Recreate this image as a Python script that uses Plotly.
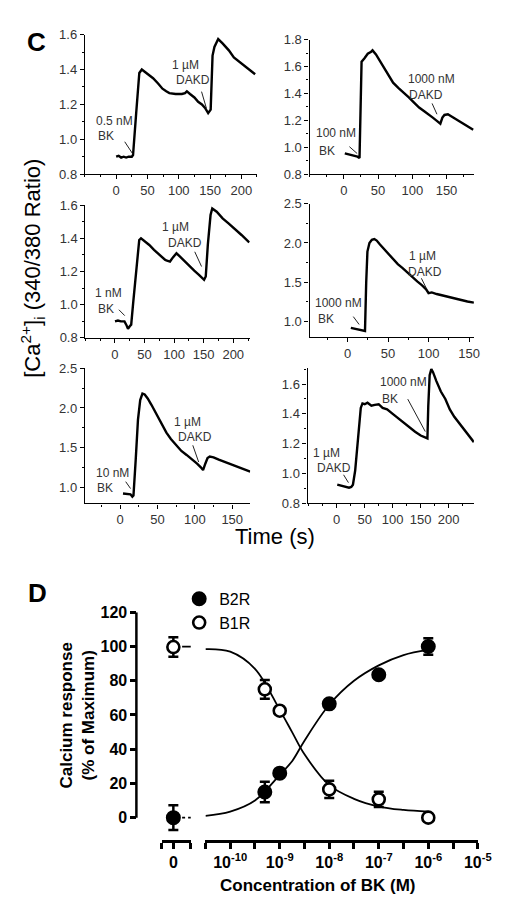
import plotly.graph_objects as go

W, H = 512, 909
FONT = "Liberation Sans, Arial, sans-serif"

# ---------------- Panel C data (time in s, ratio 340/380) ----------------
p1_t = [0, 4, 8, 12, 16, 20, 25, 27, 32, 37, 41, 45, 52, 59, 67, 74, 80, 85, 95, 105, 110, 113, 118, 125,
        131, 137, 142, 147, 151, 152.5, 154, 157, 161, 163, 170, 180, 188, 198, 209, 222]
p1_y = [0.90, 0.905, 0.895, 0.90, 0.895, 0.90, 0.90, 0.91, 1.15, 1.38, 1.40, 1.39, 1.37, 1.35, 1.32, 1.29,
        1.275, 1.265, 1.26, 1.26, 1.265, 1.275, 1.26, 1.24, 1.215, 1.20, 1.18, 1.15, 1.17, 1.30, 1.48, 1.53,
        1.566, 1.575, 1.55, 1.51, 1.47, 1.44, 1.407, 1.373]

p2_t = [1.5, 6, 11, 16, 20, 23, 24.2, 26, 30, 35, 40, 42, 47, 55, 63, 72, 80, 87, 95, 103, 110, 118, 125,
        130, 135, 139, 141, 144, 147, 152, 160, 170, 180, 189]
p2_y = [0.955, 0.95, 0.945, 0.935, 0.93, 0.92, 1.30, 1.635, 1.66, 1.695, 1.71, 1.72, 1.69, 1.62, 1.55, 1.48,
        1.44, 1.41, 1.37, 1.33, 1.295, 1.265, 1.235, 1.22, 1.20, 1.185, 1.175, 1.22, 1.24, 1.245, 1.22, 1.19,
        1.16, 1.13]

p3_t = [0, 5, 10, 16, 19, 22, 25, 27.4, 31, 35, 41, 44, 50, 58, 66, 75, 85, 88, 93, 98, 104, 110, 118, 126,
        134, 142, 148, 150.7, 153.5, 157, 161.6, 164.5, 172, 182, 192, 202, 214, 227]
p3_y = [0.90, 0.905, 0.90, 0.90, 0.88, 0.855, 0.87, 0.88, 1.02, 1.18, 1.39, 1.40, 1.385, 1.36, 1.33, 1.30,
        1.27, 1.265, 1.26, 1.285, 1.31, 1.29, 1.26, 1.23, 1.205, 1.18, 1.16, 1.15, 1.17, 1.36, 1.54, 1.58,
        1.56, 1.52, 1.49, 1.46, 1.42, 1.375]

p4_t = [4, 8, 12, 16, 20, 21.5, 23, 24.5, 27, 30, 33, 36, 40, 45, 50, 56, 62, 68, 74, 80, 86, 92, 97, 100,
        104, 110, 118, 128, 138, 148, 156]
p4_y = [0.92, 0.91, 0.90, 0.885, 0.88, 0.88, 1.50, 1.89, 2.00, 2.04, 2.05, 2.03, 1.98, 1.92, 1.86, 1.79,
        1.73, 1.68, 1.62, 1.56, 1.51, 1.46, 1.41, 1.36, 1.37, 1.35, 1.33, 1.30, 1.275, 1.255, 1.24]

p5_t = [4, 8, 12, 14, 16.5, 18, 21, 24, 27, 30, 33, 37, 42, 48, 55, 62, 68, 75, 82, 89, 96, 103, 108, 111,
        114, 117, 120, 125, 132, 140, 148, 156, 165, 174]
p5_y = [0.925, 0.92, 0.92, 0.915, 0.885, 0.90, 1.35, 1.85, 2.10, 2.18, 2.17, 2.12, 2.04, 1.93, 1.80, 1.69,
        1.61, 1.53, 1.46, 1.41, 1.36, 1.30, 1.255, 1.22, 1.30, 1.37, 1.39, 1.38, 1.35, 1.32, 1.29, 1.265,
        1.235, 1.20]

p6_t = [1, 6, 11, 16, 22, 26, 29, 33, 37, 40, 43, 46, 50, 55, 62, 68, 75, 82, 90, 100, 110, 120, 130, 140,
        150, 157, 162, 163.5, 166, 169, 172, 178, 186, 194, 202, 210, 218, 226, 235, 245]
p6_y = [0.925, 0.92, 0.915, 0.91, 0.905, 0.91, 0.925, 1.02, 1.18, 1.32, 1.44, 1.47, 1.465, 1.475, 1.455,
        1.46, 1.465, 1.44, 1.43, 1.40, 1.37, 1.335, 1.31, 1.28, 1.255, 1.24, 1.235, 1.45, 1.66, 1.70, 1.68,
        1.62, 1.55, 1.50, 1.43, 1.38, 1.34, 1.30, 1.255, 1.21]

trace_t = [p1_t, p2_t, p3_t, p4_t, p5_t, p6_t]
trace_y = [p1_y, p2_y, p3_y, p4_y, p5_y, p6_y]

# ---------------- Panel D data ----------------
conc = [5e-10, 1e-9, 1e-8, 1e-7, 1e-6]
b2r_vals = [15, 26, 66.5, 83.5, 100]
b2r_err = [6, 0, 0, 0, 4.8]
b1r_vals = [75, 62.5, 16.5, 10.7, 0]
b1r_err = [5.5, 0, 5, 4.5, 0]
b2r_zero, b2r_zero_err = 0, 7.2
b1r_zero, b1r_zero_err = 99.7, 5.7

curve_logx = [-10.5, -10, -9.5, -9, -8.75, -8.5, -8, -7.5, -7, -6.5, -6]
b2r_curve = [1, 3.5, 10, 25, 33, 45, 66, 80, 89, 95, 98]
b1r_curve = [98.5, 97, 87, 63, 50, 37, 19, 11, 6.5, 4.5, 3.5]
zero_seg_x = [0.3, 0.6]
b2r_zero_curve = [0, 0]
b1r_zero_curve = [100, 100]

d_major_log = [-10, -9, -8, -7, -6, -5]
d_major_text = ["10<sup>-10</sup>", "10<sup>-9</sup>", "10<sup>-8</sup>",
                "10<sup>-7</sup>", "10<sup>-6</sup>", "10<sup>-5</sup>"]
d_minor_log = [-10.5, -9.5, -8.5, -7.5, -6.5, -5.5]


def xd(a, b):
    return [a / W, b / W]


def yd(top, bottom):
    return [1 - bottom / H, 1 - top / H]


panels = [
    dict(xdom=(79, 256), ydom=(19, 161), xr=[-50, 225], yr=[0.8, 1.6], yt=[0.8, 1.0, 1.2, 1.4, 1.6], ym=0.1,
         xt=[0, 50, 100, 150, 200]),
    dict(xdom=(310, 479), ydom=(24, 161), xr=[-50, 190], yr=[0.8, 1.8], yt=[0.8, 1.0, 1.2, 1.4, 1.6, 1.8], ym=0.1,
         xt=[0, 50, 100, 150]),
    dict(xdom=(79.6, 248.6), ydom=(192.5, 327.7), xr=[-50, 228], yr=[0.8, 1.6], yt=[0.8, 1.0, 1.2, 1.4, 1.6], ym=0.1,
         xt=[0, 50, 100, 150, 200]),
    dict(xdom=(310, 479), ydom=(191, 327), xr=[-47, 156], yr=[0.8, 2.5], yt=[1.0, 1.5, 2.0, 2.5], ym=0.25,
         xt=[0, 50, 100, 150]),
    dict(xdom=(79, 249), ydom=(358.5, 496.2), xr=[-47, 174], yr=[0.8, 2.5], yt=[1.0, 1.5, 2.0, 2.5], ym=0.25,
         xt=[0, 50, 100, 150]),
    dict(xdom=(308, 479), ydom=(358, 496), xr=[-52, 245], yr=[0.8, 1.71], yt=[0.8, 1.0, 1.2, 1.4, 1.6], ym=0.1,
         xt=[0, 50, 100, 150, 200]),
]

fig = go.Figure()
layout = {}
tickfont = dict(family=FONT, size=13, color="#333")

for i, (p, tt, yy) in enumerate(zip(panels, trace_t, trace_y), start=1):
    sfx = "" if i == 1 else str(i)
    fig.add_trace(go.Scatter(x=tt, y=yy, mode="lines", line=dict(color="black", width=2.4),
                             xaxis="x" + sfx, yaxis="y" + sfx, showlegend=False, hoverinfo="skip"))
    layout["xaxis" + sfx] = dict(domain=xd(*p["xdom"]), range=p["xr"], anchor="y" + sfx,
                                 showline=True, linecolor="black", linewidth=1.2, showgrid=False,
                                 zeroline=False, tickmode="array", tickvals=p["xt"], ticks="outside",
                                 ticklen=4, tickcolor="black", tickwidth=1, tickfont=tickfont,
                                 minor=dict(dtick=25, tick0=0, ticks="outside", ticklen=2, tickcolor="black"))
    layout["yaxis" + sfx] = dict(domain=yd(*p["ydom"]), range=p["yr"], anchor="x" + sfx,
                                 showline=True, linecolor="black", linewidth=1.2, showgrid=False,
                                 zeroline=False, tickmode="array", tickvals=p["yt"], tickformat=".1f",
                                 ticks="outside", ticklen=4, tickcolor="black", tickwidth=1, tickfont=tickfont,
                                 minor=dict(dtick=p["ym"], tick0=0, ticks="outside", ticklen=2, tickcolor="black"))

# ---------------- Panel D traces ----------------
bold16 = dict(family=FONT, size=16, color="black", weight="bold")
mk_filled = dict(symbol="circle", size=13, color="black", line=dict(color="black", width=2))
mk_open = dict(symbol="circle", size=12, color="white", line=dict(color="black", width=2.6))
ebar = dict(type="data", thickness=2.5, width=5, color="black")

fig.add_trace(go.Scatter(x=[10 ** v for v in curve_logx], y=b2r_curve, mode="lines", line_shape="spline",
                         line=dict(color="black", width=1.8), xaxis="x8", yaxis="y7", showlegend=False,
                         hoverinfo="skip"))
fig.add_trace(go.Scatter(x=[10 ** v for v in curve_logx], y=b1r_curve, mode="lines", line_shape="spline",
                         line=dict(color="black", width=1.8), xaxis="x8", yaxis="y7", showlegend=False,
                         hoverinfo="skip"))
fig.add_trace(go.Scatter(x=zero_seg_x, y=b2r_zero_curve, mode="lines",
                         line=dict(color="black", width=1.8, dash="3px,3px"),
                         xaxis="x7", yaxis="y7", showlegend=False, hoverinfo="skip"))
fig.add_trace(go.Scatter(x=zero_seg_x, y=b1r_zero_curve, mode="lines", line=dict(color="black", width=1.8),
                         xaxis="x7", yaxis="y7", showlegend=False, hoverinfo="skip"))

fig.add_trace(go.Scatter(x=conc, y=b2r_vals, mode="markers", marker=mk_filled,
                         error_y=dict(array=b2r_err, **ebar), xaxis="x8", yaxis="y7",
                         name="B2R", legendgroup="b2r", showlegend=True))
fig.add_trace(go.Scatter(x=conc, y=b1r_vals, mode="markers", marker=mk_open,
                         error_y=dict(array=b1r_err, **ebar), xaxis="x8", yaxis="y7",
                         name="B1R", legendgroup="b1r", showlegend=True))
fig.add_trace(go.Scatter(x=[0], y=[b2r_zero], mode="markers", marker=mk_filled,
                         error_y=dict(array=[b2r_zero_err], **ebar), xaxis="x7", yaxis="y7",
                         name="B2R", legendgroup="b2r", showlegend=False))
fig.add_trace(go.Scatter(x=[0], y=[b1r_zero], mode="markers", marker=mk_open,
                         error_y=dict(array=[b1r_zero_err], **ebar), xaxis="x7", yaxis="y7",
                         name="B1R", legendgroup="b1r", showlegend=False))

d_ydom = yd(607, 839)
layout["yaxis7"] = dict(domain=d_ydom, range=[-13.2, 120], anchor="free", position=132 / W,
                        showline=False, showgrid=False, zeroline=False, tickmode="array",
                        tickvals=[0, 20, 40, 60, 80, 100, 120], ticks="outside", ticklen=6, tickwidth=2.5,
                        tickcolor="black", tickfont=bold16)
layout["xaxis7"] = dict(domain=xd(158, 188), range=[-0.4, 0.6], anchor="y7", showline=True, linecolor="black",
                        linewidth=2.5, showgrid=False, zeroline=False, tickmode="array",
                        tickvals=[0], ticktext=["0"], ticks="outside", ticklen=6,
                        tickwidth=2.5, tickcolor="black", tickfont=bold16,
                        minor=dict(tickmode="array", tickvals=[-0.4, 0.6], ticks="outside", ticklen=6,
                                   tickwidth=2.5, tickcolor="black"))
layout["xaxis8"] = dict(domain=xd(203, 483), type="log", range=[-10.5, -5], anchor="y7", showline=True,
                        linecolor="black", linewidth=2.5, showgrid=False, zeroline=False, tickmode="array",
                        tickvals=[10 ** v for v in d_major_log], ticktext=d_major_text, ticks="outside",
                        ticklen=6, tickwidth=2.5, tickcolor="black", tickfont=bold16,
                        minor=dict(tickmode="array", tickvals=[10 ** v for v in d_minor_log], ticks="outside",
                                   ticklen=6, tickwidth=2.5, tickcolor="black"))

shapes = [dict(type="line", xref="paper", yref="y7", x0=132 / W, x1=132 / W, y0=0, y1=120,
               line=dict(color="black", width=2.5))]

arrows = [(120, 128, 128, 140), (199, 77, 204, 94),
          (351, 133, 359, 140), (436, 89, 441, 100),
          (114, 299, 120, 305), (192, 240, 199, 255),
          (355, 306, 361, 314), (425, 267, 430, 277),
          (121, 474, 126, 481), (190, 437, 196, 454),
          (411, 390, 429, 423), (345, 467, 350, 475)]
for x0, y0, x1, y1 in arrows:
    shapes.append(dict(type="line", xref="paper", yref="paper", x0=x0 / W, y0=1 - y0 / H,
                       x1=x1 / W, y1=1 - y1 / H, line=dict(color="#222", width=1)))

labels = [("0.5 nM", 110, 107), ("BK", 101, 122), ("1 µM", 183, 50), ("DAKD", 190, 65),
          ("100 nM", 337, 119), ("BK", 328, 137), ("1000 nM", 435, 64), ("DAKD", 430, 80),
          ("1 nM", 103, 282), ("BK", 101, 298), ("1 µM", 172, 215), ("DAKD", 182, 231),
          ("1000 nM", 340, 292), ("BK", 327, 308), ("1 µM", 426, 244), ("DAKD", 429, 261),
          ("10 nM", 107, 465), ("BK", 100, 480), ("1 µM", 185, 413), ("DAKD", 192, 429),
          ("1000 nM", 407, 373), ("BK", 393, 390), ("1 µM", 327, 445), ("DAKD", 335, 460)]
annotations = []
for txt, x, y in labels:
    annotations.append(dict(text=txt, x=x / W, y=1 - y / H, xref="paper", yref="paper", showarrow=False,
                            xanchor="center", yanchor="middle", font=dict(family=FONT, size=12, color="#333")))

annotations += [
    dict(text="<b>C</b>", x=29 / W, y=1 - 26 / H, xref="paper", yref="paper", showarrow=False,
         xanchor="center", yanchor="middle", font=dict(family=FONT, size=26, color="black")),
    dict(text="<b>D</b>", x=30 / W, y=1 - 587 / H, xref="paper", yref="paper", showarrow=False,
         xanchor="center", yanchor="middle", font=dict(family=FONT, size=26, color="black")),
    dict(text="[Ca<sup>2+</sup>]<sub>i</sub> (340/380 Ratio)", x=25 / W, y=1 - 257 / H, xref="paper",
         yref="paper", showarrow=False, textangle=-90, xanchor="center", yanchor="middle",
         font=dict(family=FONT, size=22, color="black")),
    dict(text="Time (s)", x=275 / W, y=1 - 530 / H, xref="paper", yref="paper", showarrow=False,
         xanchor="center", yanchor="middle", font=dict(family=FONT, size=22, color="black")),
    dict(text="<b>Calcium response<br>(% of Maximum)</b>", x=71 / W, y=1 - 712 / H, xref="paper",
         yref="paper", showarrow=False, textangle=-90, xanchor="center", yanchor="middle",
         font=dict(family=FONT, size=17, color="black")),
    dict(text="<b>Concentration of BK (M)</b>", x=318 / W, y=1 - 885 / H, xref="paper", yref="paper",
         showarrow=False, xanchor="center", yanchor="middle", font=dict(family=FONT, size=17, color="black")),
]

fig.update_layout(
    width=W, height=H, margin=dict(l=0, r=0, t=0, b=0),
    paper_bgcolor="white", plot_bgcolor="white",
    shapes=shapes, annotations=annotations,
    legend=dict(x=176 / W, y=1 - 576 / H, xanchor="left", yanchor="top", bgcolor="rgba(0,0,0,0)",
                font=dict(family=FONT, size=16, color="black"), tracegroupgap=0, itemwidth=30),
    **layout,
)

fig.write_html("out.html")
